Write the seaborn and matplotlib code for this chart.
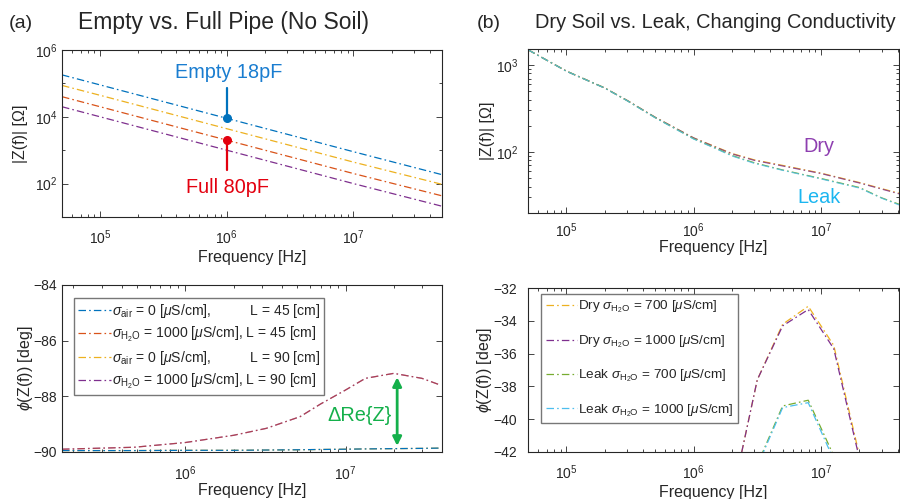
import numpy as np
import pandas as pd
import matplotlib
matplotlib.use("Agg")
import matplotlib.pyplot as plt
from matplotlib.lines import Line2D
from matplotlib.ticker import LogLocator, NullFormatter
import seaborn as sns

# ---- data ----
# (a) top: |Z| of the pipe, empty vs. full, two lengths
zmag_freq = [5e4, 1e5, 1e6, 1e7, 5e7]
zmag_air_45 = [1.8e5, 9.0e4, 9.0e3, 9.0e2, 185]
zmag_h2o_45 = [4.0e4, 2.0e4, 2.0e3, 2.0e2, 43]
zmag_air_90 = [8.7e4, 4.4e4, 4.4e3, 4.4e2, 95]
zmag_h2o_90 = [2.0e4, 1.0e4, 1.0e3, 1.0e2, 21]

# (a) bottom: phase
phase_freq = [1.7e5, 4.8e5, 1e6, 2e6, 3.2e6, 5.2e6, 7e6, 1e7, 1.33e7, 2e7, 3e7, 3.9e7]
phase_air_45 = [-89.96, -89.96, -89.95, -89.95, -89.94, -89.93, -89.92, -89.91, -89.90, -89.89, -89.88, -89.87]
phase_h2o_45 = [-89.91, -89.84, -89.67, -89.41, -89.16, -88.74, -88.28, -87.78, -87.36, -87.18, -87.36, -87.60]
phase_air_90 = [-89.96, -89.96, -89.95, -89.95, -89.94, -89.93, -89.92, -89.91, -89.90, -89.89, -89.88, -89.87]
phase_h2o_90 = [-89.91, -89.84, -89.67, -89.41, -89.16, -88.74, -88.28, -87.78, -87.36, -87.18, -87.36, -87.60]

# (b) top: |Z| with soil
soil_freq = [5e4, 1e5, 2e5, 3e5, 5e5, 1e6, 1.5e6, 2e6, 3e6, 5e6, 1e7, 2e7, 3e7, 4.1e7]
soil_dry_700 = [1500, 852, 545, 392, 250, 145, 114, 96, 81, 70, 57, 44.5, 37.8, 33.5]
soil_dry_1000 = [1500, 852, 545, 392, 250, 145, 113, 95, 80, 69, 56.5, 44, 37.4, 33]
soil_leak_700 = [1500, 852, 545, 390, 248, 142, 110, 91, 75, 62, 49.5, 39, 29.6, 25]
soil_leak_1000 = [1500, 850, 543, 389, 247, 141, 109, 90, 74, 61.5, 49, 38.5, 29.4, 24.6]

# (b) bottom: phase with soil (coarse sweep)
soil_ph_freq = [2.0e6, 3.16e6, 5.0e6, 7.94e6, 1.26e7, 2.0e7]
soil_ph_dry_700 = [-44.8, -37.6, -34.2, -33.1, -35.5, -42.2]
soil_ph_dry_1000 = [-44.8, -37.6, -34.3, -33.3, -35.7, -42.4]
soil_ph_leak_700 = [-47.0, -42.8, -39.2, -38.85, -42.25, -46.0]
soil_ph_leak_1000 = [-47.0, -42.9, -39.3, -39.0, -42.5, -46.0]

# legend texts
labels_a = [
    r"$\sigma_{\mathrm{air}}$ = 0 [$\mu$S/cm],          L = 45 [cm]",
    r"$\sigma_{\mathrm{H_2O}}$ = 1000 [$\mu$S/cm], L = 45 [cm]",
    r"$\sigma_{\mathrm{air}}$ = 0 [$\mu$S/cm],          L = 90 [cm]",
    r"$\sigma_{\mathrm{H_2O}}$ = 1000 [$\mu$S/cm], L = 90 [cm]",
]
labels_b = [
    r"Dry $\sigma_{\mathrm{H_2O}}$ = 700 [$\mu$S/cm]",
    r"Dry $\sigma_{\mathrm{H_2O}}$ = 1000 [$\mu$S/cm]",
    r"Leak $\sigma_{\mathrm{H_2O}}$ = 700 [$\mu$S/cm]",
    r"Leak $\sigma_{\mathrm{H_2O}}$ = 1000 [$\mu$S/cm]",
]

# annotation anchors
marker_freq = 1e6
empty_marker = 9.0e3
full_marker = 2.0e3
delta_freq = 2.1e7
delta_top = -87.32
delta_bottom = -89.79

# MATLAB default palette
c_blue = "#0072BD"
c_orange = "#D95319"
c_yellow = "#EDB120"
c_purple = "#7E2F8E"
c_green = "#77AC30"
c_cyan = "#4DBEEE"
axcol = "#262626"

sns.set_theme(style="ticks")
plt.rcParams["font.family"] = ["Liberation Sans", "DejaVu Sans"]
plt.rcParams["mathtext.fontset"] = "custom"
plt.rcParams["mathtext.rm"] = "Liberation Sans"
plt.rcParams["mathtext.it"] = "Liberation Sans:italic"
plt.rcParams["mathtext.bf"] = "Liberation Sans:bold"
plt.rcParams["mathtext.sf"] = "Liberation Sans"

DASH = (0, (6, 2.5, 1.3, 2.5))
LW = 0.9

W, H = 900, 499
fig = plt.figure(figsize=(W / 100, H / 100), dpi=100)


def px_axes(x0, y0, x1, y1):
    return fig.add_axes([x0 / W, 1 - y1 / H, (x1 - x0) / W, (y1 - y0) / H])


ax_a1 = px_axes(62, 50, 442, 217)
ax_a2 = px_axes(62, 285, 442, 451.7)
ax_b1 = px_axes(528, 49, 899, 212.7)
ax_b2 = px_axes(528, 288.3, 899, 451.7)


def line(ax, x, y, color, alpha=1.0):
    sns.lineplot(x=x, y=y, ax=ax, color=color, linestyle=DASH, linewidth=LW,
                 alpha=alpha, sort=False, legend=False)


def style(ax, xpad, ypad):
    ax.tick_params(which="both", direction="in", top=True, right=True,
                   color=axcol, labelcolor=axcol, labelsize=10, width=0.6)
    ax.tick_params(which="major", length=4.5)
    ax.tick_params(which="minor", length=2.5)
    ax.tick_params(axis="x", which="both", pad=xpad)
    ax.tick_params(axis="y", which="both", pad=ypad)
    if ax.get_xscale() == "log":
        ax.xaxis.set_minor_locator(LogLocator(base=10, subs=np.arange(2, 10), numticks=100))
        ax.xaxis.set_minor_formatter(NullFormatter())
    for s in ax.spines.values():
        s.set_color(axcol)
        s.set_linewidth(0.8)


def make_legend(ax, colors, labels, **kw):
    handles = [Line2D([], [], color=c, linestyle=DASH, linewidth=LW) for c in colors]
    leg = ax.legend(handles, labels, loc="upper left", frameon=True, fancybox=False,
                    borderaxespad=0, handletextpad=0.1, **kw)
    leg.get_frame().set_edgecolor("#555555")
    leg.get_frame().set_linewidth(1.0)
    return leg


# ---- (a) top ----
ax = ax_a1
ax.set_xscale("log")
ax.set_yscale("log")
line(ax, zmag_freq, zmag_air_45, c_blue)
line(ax, zmag_freq, zmag_h2o_45, c_orange)
line(ax, zmag_freq, zmag_air_90, c_yellow)
line(ax, zmag_freq, zmag_h2o_90, c_purple)
ax.set_xlim(5e4, 5e7)
ax.set_ylim(1e1, 1e6)
ax.set_yticks([1e2, 1e4, 1e6])
ax.set_yticks([1e1, 1e3, 1e5], minor=True)
ax.yaxis.set_minor_formatter(NullFormatter())
style(ax, 8, 3.5)
ax.plot([marker_freq, marker_freq], [empty_marker, 7.2e4], color=c_blue, lw=1.6)
ax.plot([marker_freq], [empty_marker], "o", color=c_blue, ms=5.5)
ax.plot([marker_freq, marker_freq], [full_marker, 2.6e2], color="#E3000F", lw=1.6)
ax.plot([marker_freq], [full_marker], "o", color="#E3000F", ms=5.5)
ax.text(marker_freq * 1.03, 2.05e5, "Empty 18pF", color="#1A7DD0", fontsize=14.3,
        ha="center", va="center")
ax.text(marker_freq * 1.01, 74, "Full 80pF", color="#E3000F", fontsize=14.3,
        ha="center", va="center")
ax.set_xlabel("Frequency [Hz]", fontsize=11.5, color=axcol)
ax.xaxis.set_label_coords(0.5, -0.20)
ax.set_ylabel("|Z(f)| [Ω]", fontsize=11.5, color=axcol, va="center")
ax.yaxis.set_label_coords(-0.11, 0.5)

# ---- (a) bottom ----
ax = ax_a2
ax.set_xscale("log")
line(ax, phase_freq, phase_air_90, c_yellow)
line(ax, phase_freq, phase_air_45, c_blue)
line(ax, phase_freq, phase_h2o_90, c_purple)
line(ax, phase_freq, phase_h2o_45, c_orange, alpha=0.5)
ax.set_xlim(1.7e5, 4e7)
ax.set_ylim(-90, -84)
ax.set_yticks([-90, -88, -86, -84])
style(ax, 9, 3.5)
make_legend(ax, [c_blue, c_orange, c_yellow, c_purple], labels_a,
            bbox_to_anchor=(0.032, 0.922), fontsize=10.1, handlelength=2.3,
            labelspacing=0.34, borderpad=0.3)
ax.annotate("", xy=(delta_freq, delta_bottom), xytext=(delta_freq, delta_top),
            arrowprops=dict(arrowstyle="<|-|>", color="#14B04B", lw=2,
                            mutation_scale=13, shrinkA=0, shrinkB=0))
ax.text(delta_freq * 0.92, -88.68, "ΔRe{Z}", color="#14B04B", fontsize=14.3,
        ha="right", va="center")
ax.set_xlabel("Frequency [Hz]", fontsize=11.5, color=axcol)
ax.xaxis.set_label_coords(0.5, -0.19)
ax.set_ylabel(r"$\phi$(Z(f)) [deg]", fontsize=11.5, color=axcol, va="center")
ax.yaxis.set_label_coords(-0.097, 0.5)

# ---- (b) top ----
ax = ax_b1
ax.set_xscale("log")
ax.set_yscale("log")
line(ax, soil_freq, soil_dry_700, c_yellow)
line(ax, soil_freq, soil_dry_1000, c_purple, alpha=0.8)
line(ax, soil_freq, soil_leak_700, c_green)
line(ax, soil_freq, soil_leak_1000, c_cyan, alpha=0.8)
ax.set_xlim(5e4, 4.1e7)
ax.set_ylim(20, 1530)
style(ax, 6, 7)
ax.text(9.6e6, 117, "Dry", color="#8E3FB0", fontsize=14.3, ha="center", va="center")
ax.text(9.6e6, 30, "Leak", color="#1CB6F0", fontsize=14.3, ha="center", va="center")
ax.set_xlabel("Frequency [Hz]", fontsize=11.5, color=axcol)
ax.xaxis.set_label_coords(0.5, -0.165)
ax.set_ylabel("|Z(f)| [Ω]", fontsize=11.5, color=axcol, va="center")
ax.yaxis.set_label_coords(-0.11, 0.5)

# ---- (b) bottom ----
ax = ax_b2
ax.set_xscale("log")
line(ax, soil_ph_freq, soil_ph_dry_700, c_yellow)
line(ax, soil_ph_freq, soil_ph_dry_1000, c_purple)
line(ax, soil_ph_freq, soil_ph_leak_700, c_green)
line(ax, soil_ph_freq, soil_ph_leak_1000, c_cyan)
ax.set_xlim(5e4, 4.1e7)
ax.set_ylim(-42, -32)
ax.set_yticks([-42, -40, -38, -36, -34, -32])
style(ax, 8.5, 8)
make_legend(ax, [c_yellow, c_purple, c_green, c_cyan], labels_b,
            bbox_to_anchor=(0.035, 0.965), fontsize=9.7, handlelength=2.3,
            labelspacing=1.33, borderpad=0.35)
ax.set_xlabel("Frequency [Hz]", fontsize=11.5, color=axcol)
ax.xaxis.set_label_coords(0.5, -0.205)
ax.set_ylabel(r"$\phi$(Z(f)) [deg]", fontsize=11.5, color=axcol, va="center")
ax.yaxis.set_label_coords(-0.118, 0.5)

# ---- panel titles ----
fig.text(21 / W, 1 - 23 / H, "(a)", fontsize=14, ha="center", va="center")
fig.text(224 / W, 1 - 23 / H, "Empty vs. Full Pipe (No Soil)", fontsize=16.5,
         ha="center", va="center")
fig.text(489 / W, 1 - 23 / H, "(b)", fontsize=14, ha="center", va="center")
fig.text(715 / W, 1 - 23 / H, "Dry Soil vs. Leak, Changing Conductivity",
         fontsize=14.4, ha="center", va="center")

fig.savefig("out.png", dpi=100)
